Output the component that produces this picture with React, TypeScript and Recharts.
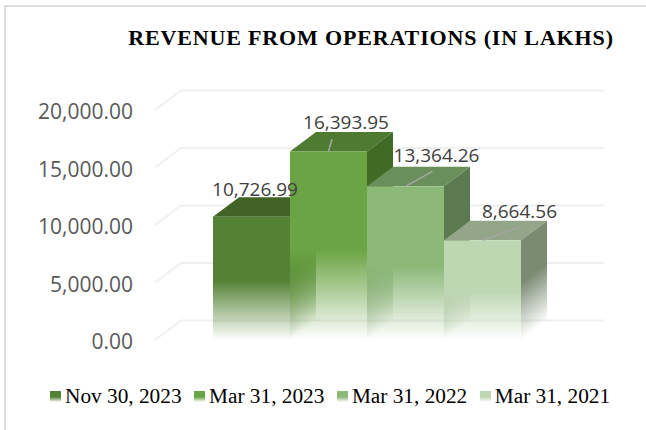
import React from "react";
import { BarChart, Bar, XAxis, YAxis, CartesianGrid, Legend, LabelList } from "recharts";

const periods = ["Nov 30, 2023", "Mar 31, 2023", "Mar 31, 2022", "Mar 31, 2021"];
const revenue = [10726.99, 16393.95, 13364.26, 8664.56];
const yTicks = [0, 5000, 10000, 15000, 20000];
const categoryName = "Revenue from operations";
const titleText = "REVENUE FROM OPERATIONS (IN LAKHS)";

const row: Record<string, string | number> = { category: categoryName };
periods.forEach((p, i) => { row[p] = revenue[i]; });
const rows = [row];

const frontColors = ["#548235", "#6aa444", "#8cb878", "#bed7b3"];
const topColors = ["#416325", "#4e7a31", "#6b8f5a", "#94a68a"];
const sideColors = ["#3d6321", "#426a26", "#5c7a4f", "#7b8b72"];
const DX = 26;
const DY = 19.5;
const SOLID = 0.52;
const labelShift = [
  [3.5, -28],
  [17.5, -29],
  [31, -31.5],
  [37, -29],
];
const leaderShift = [
  [0, 0],
  [3.5, -12.5],
  [27, -15],
  [36.5, -13],
];

const fmt = (v: number) =>
  v.toLocaleString("en-US", { minimumFractionDigits: 2, maximumFractionDigits: 2 });

const makeShape = (i: number) => (props: any) => {
  const { x, y, width, height } = props;
  const bottom = y + height;
  const right = x + width;
  const sideTop = y - DY;
  const fadeY = sideTop + (bottom - sideTop) * SOLID;
  const run = (bottom - fadeY) * 0.8;
  const cx = x + width / 2;
  return (
    <g>
      <defs>
        <linearGradient id={`front${i}`} x1="0" y1="0" x2="0" y2="1">
          <stop offset={SOLID} stopColor={frontColors[i]} stopOpacity={1} />
          <stop offset={1} stopColor={frontColors[i]} stopOpacity={0} />
        </linearGradient>
        <linearGradient
          id={`side${i}`}
          gradientUnits="userSpaceOnUse"
          x1={right}
          y1={fadeY}
          x2={right + run * 0.6}
          y2={fadeY + run * 0.8}
        >
          <stop offset={0} stopColor={sideColors[i]} stopOpacity={1} />
          <stop offset={1} stopColor={sideColors[i]} stopOpacity={0} />
        </linearGradient>
      </defs>
      <polygon
        points={`${x},${y} ${right},${y} ${right + DX},${sideTop} ${x + DX},${sideTop}`}
        fill={topColors[i]}
      />
      <polygon
        points={`${right},${y} ${right + DX},${sideTop} ${right + DX},${bottom - DY} ${right},${bottom}`}
        fill={`url(#side${i})`}
      />
      <rect x={x} y={y} width={width} height={height} fill={`url(#front${i})`} />
      <line
        x1={cx}
        y1={y}
        x2={cx + leaderShift[i][0]}
        y2={y + leaderShift[i][1]}
        stroke="#a6a6a6"
        strokeWidth={1.5}
      />
    </g>
  );
};

const makeLabel = (i: number) => (props: any) => {
  const { x, y, width, value } = props;
  return (
    <text
      x={x + width / 2 + labelShift[i][0]}
      y={y + labelShift[i][1]}
      textAnchor="middle"
      dominantBaseline="central"
      fontFamily="'Open Sans', sans-serif"
      fontSize={19}
      fill="#404040"
    >
      {fmt(Number(value))}
    </text>
  );
};

const gridLine = (props: any) => {
  const { x1, x2, y1, key } = props;
  return (
    <path
      key={key}
      d={`M${x1},${y1} L${x1 + DX},${y1 - DY} L${x2 + DX},${y1 - DY}`}
      fill="none"
      stroke="#f0f0f0"
      strokeWidth={2}
    />
  );
};

const legendContent = (props: any) => (
  <div
    style={{
      display: "flex",
      gap: 12.5,
      fontFamily: "'Liberation Serif', serif",
      fontSize: 21.3,
      color: "#000",
      lineHeight: "24px",
      whiteSpace: "nowrap",
    }}
  >
    {(props.payload || []).map((p: any) => (
      <div key={p.value} style={{ display: "flex", alignItems: "center", gap: 4 }}>
        <span
          style={{
            width: 11,
            height: 11,
            display: "inline-block",
            background: `linear-gradient(${p.color} 55%, rgba(255,255,255,0.2))`,
          }}
        />
        {p.value}
      </div>
    ))}
  </div>
);

export default function App() {
  return (
    <div style={{ position: "absolute", left: 0, top: 0, width: 646, height: 430, background: "#fff", overflow: "hidden" }}>
      <div
        style={{
          position: "absolute",
          left: 4,
          top: 5,
          width: 642,
          height: 425,
          borderLeft: "2px solid #dedede",
          borderTop: "2px solid #dedede",
          boxSizing: "border-box",
        }}
      />
      <div style={{ position: "absolute", left: 0, top: 0 }}>
        <BarChart
          width={646}
          height={430}
          data={rows}
          margin={{ top: 110, right: 68, bottom: 66, left: 0 }}
          barCategoryGap={58}
          barGap={0}
        >
          <text
            x={371}
            y={37}
            textAnchor="middle"
            dominantBaseline="central"
            fontFamily="'Liberation Serif', serif"
            fontWeight="bold"
            fontSize={22}
            letterSpacing={0.85}
            fill="#000"
          >
            {titleText}
          </text>
          <CartesianGrid vertical={false} horizontal={gridLine} />
          <XAxis dataKey="category" hide />
          <YAxis
            width={155}
            domain={[0, 20000]}
            ticks={yTicks}
            tickFormatter={fmt}
            axisLine={false}
            tickLine={false}
            tickSize={0}
            tickMargin={22}
            dy={2}
            tick={{ fontFamily: "'Open Sans', sans-serif", fontSize: 21, fill: "#595959" }}
          />
          <Legend
            verticalAlign="bottom"
            content={legendContent}
            itemSorter={null}
            wrapperStyle={{ left: 50, bottom: 22, width: "auto" }}
          />
          {periods.map((p, i) => (
            <Bar
              key={p}
              dataKey={p}
              name={p}
              fill={frontColors[i]}
              isAnimationActive={false}
              shape={makeShape(i)}
            >
              <LabelList dataKey={p} content={makeLabel(i)} />
            </Bar>
          ))}
        </BarChart>
      </div>
    </div>
  );
}
